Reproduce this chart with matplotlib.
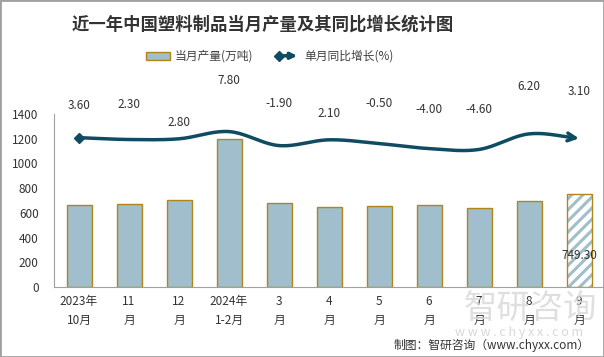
#! /usr/bin/env python3

import numpy as np
import matplotlib.pyplot as plt
from matplotlib.patches import Patch, Rectangle, FancyArrowPatch
from matplotlib.lines import Line2D

plt.rcParams['font.family'] = ['Noto Sans CJK SC', 'DejaVu Sans']

months = ['2023年\n10月', '11\n月', '12\n月', '2024年\n1-2月', '3\n月', '4\n月',
          '5\n月', '6\n月', '7\n月', '8\n月', '9\n月']
output = [661, 669, 701, 1195, 677, 645, 653, 661, 639, 693, 749.30]
growth = [3.60, 2.30, 2.80, 7.80, -1.90, 2.10, -0.50, -4.00, -4.60, 6.20, 3.10]

# label offsets above the line (points), as laid out in the original
label_dy = [23, 25, 12, 37, 30, 19, 29, 28, 29, 34, 34]

BAR = '#A0BECB'
EDGE = '#B0851A'
LINE = '#0F4C62'
TXT = '#333333'


def smooth(x, y, n=20):
    # catmull-rom curve through the points, like a spreadsheet smoothed line
    x = np.asarray(x, float)
    y = np.asarray(y, float)
    px = np.concatenate([[2*x[0]-x[1]], x, [2*x[-1]-x[-2]]])
    py = np.concatenate([[2*y[0]-y[1]], y, [2*y[-1]-y[-2]]])
    xs, ys = [], []
    t = np.linspace(0, 1, n, endpoint=False)
    for i in range(1, len(px)-2):
        for p, out in ((px, xs), (py, ys)):
            p0, p1, p2, p3 = p[i-1], p[i], p[i+1], p[i+2]
            out.extend(0.5*((2*p1) + (-p0+p2)*t + (2*p0-5*p1+4*p2-p3)*t**2
                            + (-p0+3*p1-3*p2+p3)*t**3))
    xs.append(x[-1])
    ys.append(y[-1])
    return np.array(xs), np.array(ys)


class ArrowHandler:
    def legend_artist(self, legend, orig_handle, fontsize, handlebox):
        x0, y0 = handlebox.xdescent, handlebox.ydescent
        w, h = handlebox.width, handlebox.height
        tr = handlebox.get_transform()
        a = FancyArrowPatch((x0+2, y0+h/2), (x0+w, y0+h/2), arrowstyle='-|>',
                            mutation_scale=9, lw=2.5, color=LINE, transform=tr)
        m = Line2D([x0+2], [y0+h/2], marker='D', ms=5, color=LINE, transform=tr)
        handlebox.add_artist(a)
        handlebox.add_artist(m)
        return a


fig = plt.figure(figsize=(6.04, 3.57), dpi=100)
ax = fig.add_axes([54/604, 70/357, 550/604, 173/357])
x = np.arange(len(months))

ax.bar(x[:-1], output[:-1], width=0.5, color=BAR, edgecolor=EDGE, lw=1)
plt.rcParams['hatch.linewidth'] = 2.2
ax.bar(x[-1:], output[-1:], width=0.5, color='white', edgecolor=BAR, lw=0, hatch='///')
ax.bar(x[-1:], output[-1:], width=0.5, color='none', edgecolor=EDGE, lw=1)
ax.text(x[-1], 257, '%.2f' % output[-1], ha='center', va='center',
        fontsize=8.5, color=TXT)

ax.set_xlim(-0.5, len(months)-0.5)
ax.set_ylim(0, 1400)
ax.set_yticks(range(0, 1401, 200))
ax.set_xticks(x)
ax.set_xticklabels(months, fontsize=8.5, color=TXT, linespacing=1.6)
ax.tick_params(axis='y', length=0, labelsize=8.5, labelcolor=TXT, pad=11)
ax.tick_params(axis='x', length=0, pad=6)
for s in ['top', 'right']:
    ax.spines[s].set_visible(False)
ax.spines['left'].set_color('#A0A0A0')
ax.spines['bottom'].set_color('#A0A0A0')

ax2 = ax.twinx()
ax2.set_ylim(-100, 20)
ax2.axis('off')
sx, sy = smooth(x, growth)
ax2.plot(sx[:-4], sy[:-4], color=LINE, lw=2.5, solid_capstyle='round')
ax2.plot(x[0], growth[0], marker='D', ms=5, color=LINE)
ax2.annotate('', xy=(sx[-1], sy[-1]), xytext=(sx[-5], sy[-5]),
             arrowprops=dict(arrowstyle='->', color=LINE, lw=2.5, mutation_scale=14,
                             shrinkA=0, shrinkB=0))
for xi, g, dy in zip(x, growth, label_dy):
    ax2.annotate('%.2f' % g, (xi, g), xytext=(0, dy), textcoords='offset points',
                 ha='center', va='center', fontsize=8.5, color=TXT)

fig.text(0.435, 0.93, '近一年中国塑料制品当月产量及其同比增长统计图', ha='center',
         va='center', fontsize=12.5, fontweight='bold', color='#333333')

handles = [Patch(facecolor=BAR, edgecolor=EDGE), Line2D([], [], color=LINE)]
fig.legend(handles, ['当月产量(万吨)', '单月同比增长(%)'], loc='center',
           bbox_to_anchor=(0.447, 0.842), ncol=2, frameon=False, fontsize=8.5,
           handler_map={Line2D: ArrowHandler()}, handlelength=2.0,
           handletextpad=0.4, columnspacing=2.0, labelcolor='#404040')

# watermark
fig.text(0.878, 0.135, '智研咨询', fontsize=24, color='#D8D8D8', ha='center',
         va='center', alpha=0.8)
fig.text(0.86, 0.07, 'w w w . c h y x x . c o m', fontsize=9, color='#D8D8D8',
         ha='center', va='center')
fig.text(0.977, 0.033, '制图：智研咨询（www.chyxx.com）', fontsize=8.5, color=TXT,
         ha='right', va='center')

fig.patches.append(Rectangle((0, 0), 1, 1, transform=fig.transFigure, fill=False,
                             edgecolor='#A0A0A0', lw=2))

fig.savefig('out.png')
